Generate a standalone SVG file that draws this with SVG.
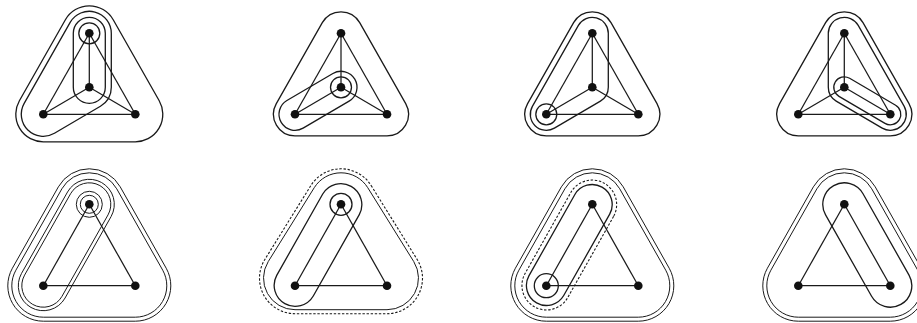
<svg xmlns="http://www.w3.org/2000/svg" width="917" height="323" viewBox="0 0 917 323">
<style>
.h{fill:none;stroke:#1a1a1a;stroke-width:1.3}
.h2{fill:none;stroke:#1a1a1a;stroke-width:1}
.d{stroke-dasharray:2.4 1.7;stroke-width:1.1}
.e{stroke:#1a1a1a;stroke-width:1.25;fill:none}
.n{fill:#111}
</style>
<defs>
<path id="topHull" d="M18.7,22.68 L64.7,103.68 A21.5 21.5 0 0 1 46,135.8 L-46,135.8 A21.5 21.5 0 0 1 -64.7,103.68 L-18.7,22.68 A21.5 21.5 0 0 1 18.7,22.68Z"/>
<path id="botHullOut" d="M30.91,186.83 L76.91,268.23 A35.5 35.5 0 0 1 46,321.2 L-46,321.2 A35.5 35.5 0 0 1 -76.91,268.23 L-30.91,186.83 A35.5 35.5 0 0 1 30.91,186.83Z"/>
<path id="botHullIn" d="M27.42,188.8 L73.42,270.2 A31.5 31.5 0 0 1 46,317.2 L-46,317.2 A31.5 31.5 0 0 1 -73.42,270.2 L-27.42,188.8 A31.5 31.5 0 0 1 27.42,188.8Z"/>
</defs>

<!-- hyperedge outlines -->
<g id="panel1-edges" transform="translate(89.3,0)">
<path class="h" d="M23.91,19.72 L69.91,100.72 A27.5 27.5 0 0 1 46,141.8 L-46,141.8 A27.5 27.5 0 0 1 -69.91,100.72 L-23.91,19.72 A27.5 27.5 0 0 1 23.91,19.72Z"/>
<path class="h" d="M22,33.3 L22,87.3 A22 22 0 0 1 11.14,106.27 L-34.86,133.27 A22 22 0 0 1 -65.13,103.44 L-19.13,22.44 A22 22 0 0 1 22,33.3Z"/>
<path class="h" d="M16,33.3 L16,87.3 A16 16 0 0 1 -16,87.3 L-16,33.3 A16 16 0 0 1 16,33.3Z"/>
<circle class="h" cx="0" cy="33.3" r="10.5"/>
</g>
<g id="panel2-edges" transform="translate(341,0)">
<use href="#topHull" class="h"/>
<path class="h" d="M8.1,101.1 L-37.9,128.1 A16 16 0 0 1 -54.1,100.5 L-8.1,73.5 A16 16 0 0 1 8.1,101.1Z"/>
<circle class="h" cx="0" cy="87.3" r="10.5"/>
</g>
<g id="panel3-edges" transform="translate(592.3,0)">
<use href="#topHull" class="h"/>
<path class="h" d="M16,33.3 L16,87.3 A16 16 0 0 1 8.1,101.1 L-37.9,128.1 A16 16 0 0 1 -59.91,106.4 L-13.91,25.4 A16 16 0 0 1 16,33.3Z"/>
<circle class="h" cx="-46" cy="114.3" r="10.5"/>
</g>
<g id="panel4-edges" transform="translate(844.3,0)">
<use href="#topHull" class="h"/>
<path class="h" d="M13.91,25.4 L59.91,106.4 A16 16 0 0 1 37.9,128.1 L-8.1,101.1 A16 16 0 0 1 -16,87.3 L-16,33.3 A16 16 0 0 1 13.91,25.4Z"/>
<path class="h" d="M5.32,78.25 L51.32,105.25 A10.5 10.5 0 0 1 40.68,123.36 L-5.32,96.36 A10.5 10.5 0 0 1 5.32,78.25Z"/>
</g>
<g id="panel5-edges" transform="translate(89.3,0)">
<use href="#botHullOut" class="h2"/>
<use href="#botHullIn" class="h2"/>
<path class="h2" d="M21.77,216.6 L-24.23,298 A25 25 0 0 1 -67.77,273.4 L-21.77,192 A25 25 0 0 1 21.77,216.6Z"/>
<path class="h2" d="M18.72,214.88 L-27.28,296.28 A21.5 21.5 0 0 1 -64.72,275.12 L-18.72,193.72 A21.5 21.5 0 0 1 18.72,214.88Z"/>
<circle class="h2" cx="0" cy="204.3" r="13"/>
<circle class="h2" cx="0" cy="204.3" r="9"/>
</g>
<g id="panel6-edges" transform="translate(341,0)">
<path class="h2 d" d="M30.14,185.54 L76.14,259.44 A35.5 35.5 0 0 1 46,313.7 L-46,313.7 A35.5 35.5 0 0 1 -76.14,259.44 L-30.14,185.54 A35.5 35.5 0 0 1 30.14,185.54Z"/>
<path class="h2" d="M26.74,187.66 L72.74,261.56 A31.5 31.5 0 0 1 46,309.7 L-46,309.7 A31.5 31.5 0 0 1 -72.74,261.56 L-26.74,187.66 A31.5 31.5 0 0 1 26.74,187.66Z"/>
<path class="h" d="M18.28,214.63 L-27.72,296.03 A21 21 0 0 1 -64.28,275.37 L-18.28,193.97 A21 21 0 0 1 18.28,214.63Z"/>
<circle class="h" cx="0" cy="204.3" r="11"/>
</g>
<g id="panel7-edges" transform="translate(592.3,0)">
<use href="#botHullOut" class="h2"/>
<use href="#botHullIn" class="h2"/>
<path class="h2 d" d="M21.33,216.35 L-24.67,297.75 A24.5 24.5 0 0 1 -67.33,273.65 L-21.33,192.25 A24.5 24.5 0 0 1 21.33,216.35Z"/>
<path class="h" d="M17.41,214.14 L-28.59,295.54 A20 20 0 0 1 -63.41,275.86 L-17.41,194.46 A20 20 0 0 1 17.41,214.14Z"/>
<circle class="h" cx="-46" cy="285.7" r="12"/>
</g>
<g id="panel8-edges" transform="translate(844.3,0)">
<use href="#botHullOut" class="h2"/>
<use href="#botHullIn" class="h2"/>
<path class="h" d="M18.72,193.72 L64.72,275.12 A21.5 21.5 0 0 1 27.28,296.28 L-18.72,214.88 A21.5 21.5 0 0 1 18.72,193.72Z"/>
</g>

<!-- connectors -->
<g id="connectors" class="e">
<g transform="translate(89.3,0)">
<line x1="0" y1="33.3" x2="-46" y2="114.3"/><line x1="0" y1="33.3" x2="46" y2="114.3"/><line x1="-46" y1="114.3" x2="46" y2="114.3"/>
<line x1="0" y1="33.3" x2="0" y2="87.3"/><line x1="0" y1="87.3" x2="-46" y2="114.3"/><line x1="0" y1="87.3" x2="46" y2="114.3"/>
</g>
<g transform="translate(341,0)">
<line x1="0" y1="33.3" x2="-46" y2="114.3"/><line x1="0" y1="33.3" x2="46" y2="114.3"/><line x1="-46" y1="114.3" x2="46" y2="114.3"/>
<line x1="0" y1="33.3" x2="0" y2="87.3"/><line x1="0" y1="87.3" x2="-46" y2="114.3"/><line x1="0" y1="87.3" x2="46" y2="114.3"/>
</g>
<g transform="translate(592.3,0)">
<line x1="0" y1="33.3" x2="-46" y2="114.3"/><line x1="0" y1="33.3" x2="46" y2="114.3"/><line x1="-46" y1="114.3" x2="46" y2="114.3"/>
<line x1="0" y1="33.3" x2="0" y2="87.3"/><line x1="0" y1="87.3" x2="-46" y2="114.3"/><line x1="0" y1="87.3" x2="46" y2="114.3"/>
</g>
<g transform="translate(844.3,0)">
<line x1="0" y1="33.3" x2="-46" y2="114.3"/><line x1="0" y1="33.3" x2="46" y2="114.3"/><line x1="-46" y1="114.3" x2="46" y2="114.3"/>
<line x1="0" y1="33.3" x2="0" y2="87.3"/><line x1="0" y1="87.3" x2="-46" y2="114.3"/><line x1="0" y1="87.3" x2="46" y2="114.3"/>
</g>
<g transform="translate(89.3,0)">
<line x1="0" y1="204.3" x2="-46" y2="285.7"/><line x1="0" y1="204.3" x2="46" y2="285.7"/><line x1="-46" y1="285.7" x2="46" y2="285.7"/>
</g>
<g transform="translate(341,0)">
<line x1="0" y1="204.3" x2="-46" y2="285.7"/><line x1="0" y1="204.3" x2="46" y2="285.7"/><line x1="-46" y1="285.7" x2="46" y2="285.7"/>
</g>
<g transform="translate(592.3,0)">
<line x1="0" y1="204.3" x2="-46" y2="285.7"/><line x1="0" y1="204.3" x2="46" y2="285.7"/><line x1="-46" y1="285.7" x2="46" y2="285.7"/>
</g>
<g transform="translate(844.3,0)">
<line x1="0" y1="204.3" x2="-46" y2="285.7"/><line x1="0" y1="204.3" x2="46" y2="285.7"/><line x1="-46" y1="285.7" x2="46" y2="285.7"/>
</g>
</g>

<!-- nodes -->
<g class="n">
<g id="p1-t"><circle cx="89.3" cy="33.3" r="4.3"/></g>
<g id="p1-c"><circle cx="89.3" cy="87.3" r="4.3"/></g>
<g id="p1-l"><circle cx="43.3" cy="114.3" r="4.3"/></g>
<g id="p1-r"><circle cx="135.3" cy="114.3" r="4.3"/></g>
<g id="p2-t"><circle cx="341" cy="33.3" r="4.3"/></g>
<g id="p2-c"><circle cx="341" cy="87.3" r="4.3"/></g>
<g id="p2-l"><circle cx="295" cy="114.3" r="4.3"/></g>
<g id="p2-r"><circle cx="387" cy="114.3" r="4.3"/></g>
<g id="p3-t"><circle cx="592.3" cy="33.3" r="4.3"/></g>
<g id="p3-c"><circle cx="592.3" cy="87.3" r="4.3"/></g>
<g id="p3-l"><circle cx="546.3" cy="114.3" r="4.3"/></g>
<g id="p3-r"><circle cx="638.3" cy="114.3" r="4.3"/></g>
<g id="p4-t"><circle cx="844.3" cy="33.3" r="4.3"/></g>
<g id="p4-c"><circle cx="844.3" cy="87.3" r="4.3"/></g>
<g id="p4-l"><circle cx="798.3" cy="114.3" r="4.3"/></g>
<g id="p4-r"><circle cx="890.3" cy="114.3" r="4.3"/></g>
<g id="p5-t"><circle cx="89.3" cy="204.3" r="4.3"/></g>
<g id="p5-l"><circle cx="43.3" cy="285.7" r="4.3"/></g>
<g id="p5-r"><circle cx="135.3" cy="285.7" r="4.3"/></g>
<g id="p6-t"><circle cx="341" cy="204.3" r="4.3"/></g>
<g id="p6-l"><circle cx="295" cy="285.7" r="4.3"/></g>
<g id="p6-r"><circle cx="387" cy="285.7" r="4.3"/></g>
<g id="p7-t"><circle cx="592.3" cy="204.3" r="4.3"/></g>
<g id="p7-l"><circle cx="546.3" cy="285.7" r="4.3"/></g>
<g id="p7-r"><circle cx="638.3" cy="285.7" r="4.3"/></g>
<g id="p8-t"><circle cx="844.3" cy="204.3" r="4.3"/></g>
<g id="p8-l"><circle cx="798.3" cy="285.7" r="4.3"/></g>
<g id="p8-r"><circle cx="890.3" cy="285.7" r="4.3"/></g>
</g>
</svg>
